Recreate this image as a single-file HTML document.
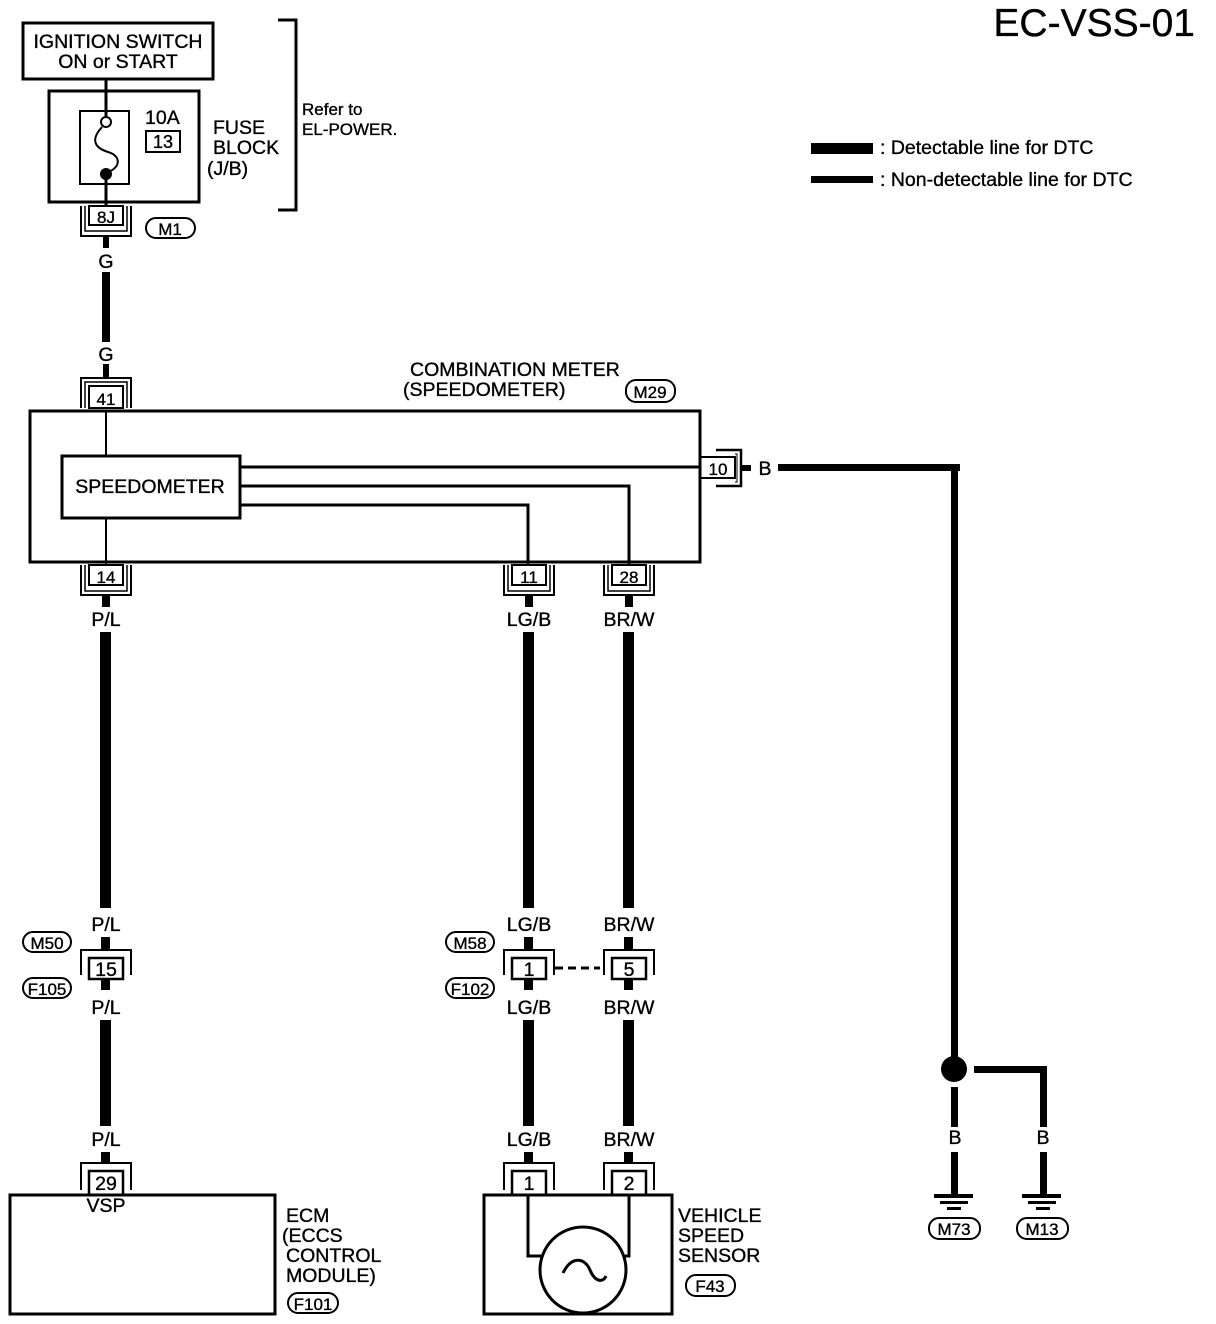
<!DOCTYPE html>
<html><head><meta charset="utf-8"><style>
html,body{margin:0;padding:0;background:#fff;}
svg{display:block;}
text{font-family:"Liberation Sans",sans-serif;fill:#000;stroke:#000;stroke-width:0.35;}
</style></head><body>
<svg width="1216" height="1324" viewBox="0 0 1216 1324" xmlns="http://www.w3.org/2000/svg">
<g fill="none" stroke="#000">
<rect x="23" y="23" width="190" height="56" stroke-width="3"/>
<rect x="49" y="91" width="150" height="111" stroke-width="3"/>
<rect x="80" y="111" width="49" height="73" stroke-width="2"/>
<line x1="106" y1="79" x2="106" y2="117" stroke-width="3"/>
<circle cx="106" cy="122" r="5" stroke-width="2"/>
<path d="M102,127 C90,140 95,148 108,152 C122,156 120,168 108,172" stroke-width="2"/>
<line x1="106" y1="178" x2="106" y2="207" stroke-width="3"/>
<rect x="146" y="131" width="34" height="21" stroke-width="2"/>
<path d="M278,20 H296 V210 H278" stroke-width="3"/>
<rect x="89" y="206" width="34" height="19" stroke-width="2"/>
<path d="M81,206 V236 H131 V206" stroke-width="2"/>
<path d="M85,206 V231 H127 V206" stroke-width="1.5"/>
<rect x="146" y="218" width="49" height="20" rx="10" stroke-width="2"/>
<path d="M81,408 V378 H131 V408" stroke-width="2"/>
<path d="M85,408 V382 H127 V408" stroke-width="1.5"/>
<rect x="89" y="386" width="34" height="22" stroke-width="2"/>
<rect x="626" y="380" width="49" height="22" rx="10" stroke-width="2"/>
<rect x="30" y="411" width="670" height="151" stroke-width="3"/>
<rect x="62" y="456" width="178" height="62" stroke-width="3"/>
<line x1="106" y1="411" x2="106" y2="456" stroke-width="2"/>
<line x1="106" y1="518" x2="106" y2="566" stroke-width="2"/>
<line x1="240" y1="467" x2="700" y2="467" stroke-width="3"/>
<path d="M240,486 H629 V566" stroke-width="3"/>
<path d="M240,505 H528 V566" stroke-width="3"/>
<rect x="700" y="457" width="35" height="21" stroke-width="2"/>
<path d="M716,450 H741 V486 H716" stroke-width="2.5"/>
<path d="M735,454 H737 V482 H735" stroke-width="1"/>
<line x1="740" y1="468" x2="751" y2="468" stroke-width="6"/>
<rect x="89" y="565" width="34" height="20" stroke-width="2"/>
<path d="M81,565 V595 H131 V565" stroke-width="2"/>
<path d="M85,565 V591 H127 V565" stroke-width="1.5"/>
<rect x="512" y="565" width="34" height="20" stroke-width="2"/>
<path d="M504,565 V595 H554 V565" stroke-width="2"/>
<path d="M508,565 V591 H550 V565" stroke-width="1.5"/>
<rect x="612" y="565" width="34" height="20" stroke-width="2"/>
<path d="M604,565 V595 H654 V565" stroke-width="2"/>
<path d="M608,565 V591 H650 V565" stroke-width="1.5"/>
<rect x="23" y="932" width="48" height="20" rx="10" stroke-width="2"/>
<rect x="23" y="978" width="48" height="20" rx="10" stroke-width="2"/>
<path d="M81,975 V950 H131 V975" stroke-width="2"/>
<rect x="89" y="958" width="34" height="21" stroke-width="2.5"/>
<rect x="446" y="932" width="48" height="20" rx="10" stroke-width="2"/>
<rect x="446" y="978" width="48" height="20" rx="10" stroke-width="2"/>
<path d="M504,975 V950 H554 V975" stroke-width="2"/>
<rect x="512" y="958" width="34" height="21" stroke-width="2.5"/>
<path d="M604,975 V950 H654 V975" stroke-width="2"/>
<rect x="612" y="958" width="34" height="21" stroke-width="2.5"/>
<line x1="555" y1="968" x2="600" y2="968" stroke-width="3" stroke-dasharray="8,5"/>
<path d="M81,1190 V1163 H131 V1190" stroke-width="2"/>
<rect x="89" y="1171" width="34" height="24" stroke-width="2.5"/>
<rect x="10" y="1195" width="265" height="119" stroke-width="3"/>
<rect x="288" y="1293" width="50" height="20" rx="10" stroke-width="2"/>
<path d="M504,1190 V1163 H554 V1190" stroke-width="2"/>
<rect x="512" y="1171" width="34" height="24" stroke-width="2.5"/>
<path d="M604,1190 V1163 H654 V1190" stroke-width="2"/>
<rect x="612" y="1171" width="34" height="24" stroke-width="2.5"/>
<rect x="484" y="1195" width="188" height="119" stroke-width="3"/>
<path d="M528,1195 V1256 H541" stroke-width="3"/>
<path d="M629,1195 V1256 H625" stroke-width="3"/>
<circle cx="583" cy="1270" r="43" stroke-width="3"/>
<path d="M563,1273 C572,1255 585,1258 590,1270 C595,1282 603,1283 606,1276" stroke-width="3"/>
<rect x="686" y="1275" width="49" height="21" rx="10" stroke-width="2"/>
<rect x="929" y="1218" width="51" height="21" rx="10" stroke-width="2"/>
<rect x="1017" y="1218" width="51" height="21" rx="10" stroke-width="2"/>
</g>
<g fill="#000">
<circle cx="106" cy="174" r="6"/>
<rect x="778" y="464" width="182" height="7"/>
<rect x="951" y="464" width="7" height="595"/>
<circle cx="954" cy="1069" r="13"/>
<rect x="951" y="1087" width="7" height="40"/>
<rect x="951" y="1152" width="7" height="43"/>
<rect x="974" y="1066" width="72" height="7"/>
<rect x="1040" y="1066" width="7" height="61"/>
<rect x="1040" y="1152" width="7" height="43"/>
<rect x="934" y="1194" width="39" height="4"/>
<rect x="940" y="1201" width="28" height="3"/>
<rect x="947" y="1207" width="14" height="3"/>
<rect x="1022" y="1194" width="39" height="4"/>
<rect x="1028" y="1201" width="28" height="3"/>
<rect x="1036" y="1207" width="14" height="3"/>
<rect x="103" y="236" width="6" height="12"/>
<rect x="102" y="272" width="8" height="70"/>
<rect x="103" y="364" width="6" height="14"/>
<rect x="102" y="595" width="8" height="12"/>
<rect x="100" y="632" width="11" height="276"/>
<rect x="101" y="937" width="9" height="13"/>
<rect x="101" y="979" width="9" height="11"/>
<rect x="100" y="1020" width="11" height="106"/>
<rect x="101" y="1152" width="9" height="11"/>
<rect x="525" y="595" width="8" height="12"/>
<rect x="523" y="632" width="11" height="276"/>
<rect x="524" y="937" width="9" height="13"/>
<rect x="524" y="979" width="9" height="11"/>
<rect x="523" y="1020" width="11" height="106"/>
<rect x="524" y="1152" width="9" height="11"/>
<rect x="625" y="595" width="8" height="12"/>
<rect x="623" y="632" width="11" height="276"/>
<rect x="624" y="937" width="9" height="13"/>
<rect x="624" y="979" width="9" height="11"/>
<rect x="623" y="1020" width="11" height="106"/>
<rect x="624" y="1152" width="9" height="11"/>
<rect x="811" y="143" width="62" height="11"/>
<rect x="811" y="176" width="62" height="7"/>
</g>
<g font-size="19.5">
<text x="118" y="48" text-anchor="middle">IGNITION SWITCH</text>
<text x="118" y="68" text-anchor="middle">ON or START</text>
<text x="145" y="124">10A</text>
<text x="163" y="148" text-anchor="middle" font-size="18">13</text>
<text x="213" y="134">FUSE</text>
<text x="213" y="154">BLOCK</text>
<text x="207" y="175">(J/B)</text>
<text x="302" y="115" font-size="17">Refer to</text>
<text x="302" y="135" font-size="17">EL-POWER.</text>
<text x="106" y="223" text-anchor="middle" font-size="17">8J</text>
<text x="170" y="235" text-anchor="middle" font-size="17">M1</text>
<text x="106" y="268" text-anchor="middle">G</text>
<text x="106" y="361" text-anchor="middle">G</text>
<text x="106" y="405" text-anchor="middle" font-size="17">41</text>
<text x="410" y="376">COMBINATION METER</text>
<text x="403" y="396">(SPEEDOMETER)</text>
<text x="650" y="398" text-anchor="middle" font-size="17">M29</text>
<text x="150" y="493" text-anchor="middle">SPEEDOMETER</text>
<text x="718" y="475" text-anchor="middle" font-size="17">10</text>
<text x="765" y="475" text-anchor="middle">B</text>
<text x="106" y="583" text-anchor="middle" font-size="17">14</text>
<text x="529" y="583" text-anchor="middle" font-size="17">11</text>
<text x="629" y="583" text-anchor="middle" font-size="17">28</text>
<text x="106" y="626" text-anchor="middle">P/L</text>
<text x="529" y="626" text-anchor="middle">LG/B</text>
<text x="629" y="626" text-anchor="middle">BR/W</text>
<text x="106" y="931" text-anchor="middle">P/L</text>
<text x="529" y="931" text-anchor="middle">LG/B</text>
<text x="629" y="931" text-anchor="middle">BR/W</text>
<text x="47" y="949" text-anchor="middle" font-size="17">M50</text>
<text x="47" y="995" text-anchor="middle" font-size="17">F105</text>
<text x="470" y="949" text-anchor="middle" font-size="17">M58</text>
<text x="470" y="995" text-anchor="middle" font-size="17">F102</text>
<text x="106" y="976" text-anchor="middle">15</text>
<text x="529" y="976" text-anchor="middle">1</text>
<text x="629" y="976" text-anchor="middle">5</text>
<text x="106" y="1014" text-anchor="middle">P/L</text>
<text x="529" y="1014" text-anchor="middle">LG/B</text>
<text x="629" y="1014" text-anchor="middle">BR/W</text>
<text x="106" y="1146" text-anchor="middle">P/L</text>
<text x="529" y="1146" text-anchor="middle">LG/B</text>
<text x="629" y="1146" text-anchor="middle">BR/W</text>
<text x="106" y="1190" text-anchor="middle">29</text>
<text x="529" y="1190" text-anchor="middle">1</text>
<text x="629" y="1190" text-anchor="middle">2</text>
<text x="106" y="1212" text-anchor="middle">VSP</text>
<text x="286" y="1222">ECM</text>
<text x="282" y="1242">(ECCS</text>
<text x="286" y="1262">CONTROL</text>
<text x="286" y="1282">MODULE)</text>
<text x="313" y="1310" text-anchor="middle" font-size="17">F101</text>
<text x="678" y="1222">VEHICLE</text>
<text x="678" y="1242">SPEED</text>
<text x="678" y="1262">SENSOR</text>
<text x="710" y="1292" text-anchor="middle" font-size="17">F43</text>
<text x="955" y="1144" text-anchor="middle">B</text>
<text x="1043" y="1144" text-anchor="middle">B</text>
<text x="954" y="1235" text-anchor="middle" font-size="17">M73</text>
<text x="1042" y="1235" text-anchor="middle" font-size="17">M13</text>
<text x="880" y="154">: Detectable line for DTC</text>
<text x="880" y="186">: Non-detectable line for DTC</text>
</g>
<text x="1195" y="36" text-anchor="end" font-size="39">EC-VSS-01</text>
</svg>
</body></html>
